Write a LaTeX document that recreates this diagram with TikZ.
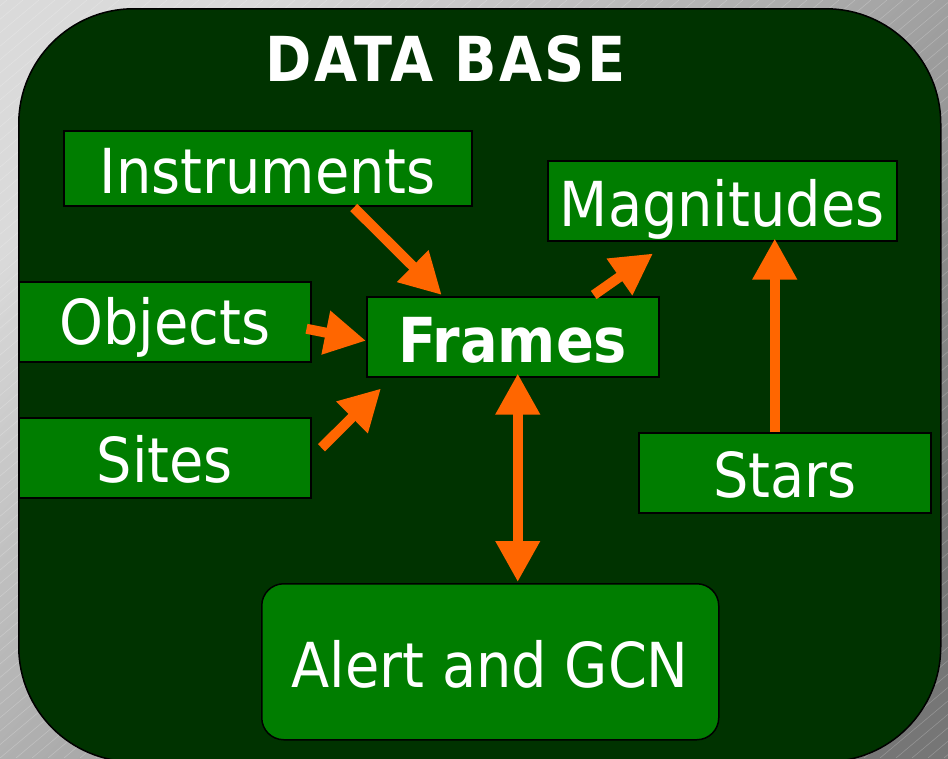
\documentclass[tikz,border=0pt]{standalone}
\usepackage{fontspec}
\setmainfont{DejaVu Sans Condensed}
\usetikzlibrary{arrows.meta}
\definecolor{dbgreen}{RGB}{0,51,0}
\definecolor{boxgreen}{RGB}{0,125,0}
\definecolor{arrorange}{RGB}{255,102,0}
\definecolor{bglight}{RGB}{218,218,218}
\definecolor{bgdark}{RGB}{118,118,118}
\tikzset{
  box/.style={draw=black, line width=1.5pt, fill=boxgreen, text=white, inner sep=0pt,
    anchor=north west, font=\fontsize{62}{62}\selectfont},
  arr/.style={draw=arrorange, line width=10pt, -{Triangle[length=41pt,width=42pt]}},
  darr/.style={draw=arrorange, line width=10pt, {Triangle[length=41pt,width=42pt]}-{Triangle[length=41pt,width=42pt]}},
  bgline/.style={draw=white, opacity=0.22, line width=0.6pt}
}
\begin{document}
\begin{tikzpicture}[x=1pt,y=-1pt]
\useasboundingbox (0,0) rectangle (948,758);
% background
\shade[top color=bglight, bottom color=bgdark, shading angle=45] (0,0) rectangle (948,758);
\begin{scope}
  \clip (0,0) rectangle (948,758);
  \foreach \i in {-912,-896,...,948} \draw[bgline] (\i,758) -- ++(903,-758);
\end{scope}
% database container
\node[draw=black, line width=1.5pt, fill=dbgreen, rounded corners=115pt, inner sep=0pt,
      minimum width=922pt, minimum height=753pt, anchor=north west] (db) at (18,8) {};
\node[text=white, anchor=base, font=\fontsize{62}{62}\selectfont\bfseries\addfontfeatures{LetterSpace=3.5}] (title) at (445.5,81) {DATA BASE};
% boxes
\node[box, minimum width=408pt, text height=63pt, text depth=12pt] (inst) at (63,130) {Instruments};
\node[box, minimum width=349pt, text height=66pt, text depth=14pt] (mag) at (547,160) {Magnitudes};
\node[box, minimum width=292pt, text height=63pt, text depth=17pt] (obj) at (18,281) {Objects};
\node[box, minimum width=292pt, text height=66pt, text depth=14pt, font=\fontsize{62}{62}\selectfont\bfseries] (frames) at (366,296) {Frames};
\node[box, minimum width=292pt, text height=65pt, text depth=15pt] (sites) at (18,417) {Sites};
\node[box, minimum width=292pt, text height=65pt, text depth=15pt] (stars) at (638,432) {Stars};
\node[box, rounded corners=22pt, minimum width=457pt, text height=104pt, text depth=52pt] (alert) at (261,583) {Alert and GCN};
% connectors
\draw[arr] ([xshift=86pt,yshift=-1pt]inst.south) -- ([xshift=-71pt,yshift=1pt]frames.north);
\draw[arr] ([xshift=-5pt,yshift=-7pt]obj.east) -- ([yshift=-4pt]frames.west);
\draw[arr] ([xshift=10pt,yshift=10pt]sites.east) -- ([xshift=15pt,yshift=-11pt]frames.south west);
\draw[arr] ([xshift=81pt,yshift=1pt]frames.north) -- ([xshift=106pt,yshift=-12pt]mag.south west);
\draw[arr] ([xshift=-10pt]stars.north) -- ([xshift=52.5pt,yshift=3pt]mag.south);
\draw[darr] ([xshift=5pt,yshift=4pt]frames.south) -- ([xshift=27.5pt,yshift=1pt]alert.north);
\end{tikzpicture}
\end{document}
